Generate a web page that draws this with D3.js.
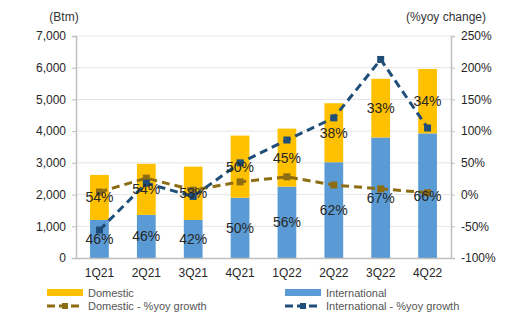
<!DOCTYPE html>
<html>
<head>
<meta charset="utf-8">
<script src="https://cdn.jsdelivr.net/npm/d3@7"></script>
<style>
  body { margin: 0; background: #fff; }
  text { font-family: Arial, "Liberation Sans", sans-serif; }
</style>
</head>
<body>
<script>
// quarters and values
const quarters = ["1Q21", "2Q21", "3Q21", "4Q21", "1Q22", "2Q22", "3Q22", "4Q22"];
const international = [1200, 1360, 1200, 1900, 2250, 3020, 3800, 3930];
const domestic = [1420, 1610, 1680, 1960, 1830, 1860, 1850, 2030];
const intlShare = ["46%", "46%", "42%", "50%", "56%", "62%", "67%", "66%"];
const domShare = ["54%", "54%", "58%", "50%", "45%", "38%", "33%", "34%"];
const domGrowth = [4, 26, 7, 20, 28, 15, 9, 3];
const intlGrowth = [-56, 18, -3, 50, 86, 121, 213, 105];
const leftTicks = [0, 1000, 2000, 3000, 4000, 5000, 6000, 7000];
const rightTicks = [-100, -50, 0, 50, 100, 150, 200, 250];

const width = 507, height = 315;
const margin = { left: 76, right: 56, top: 36, bottom: 57 };

const svg = d3.select("body").append("svg")
  .attr("width", width)
  .attr("height", height);

const x = d3.scaleBand()
  .domain(quarters)
  .range([margin.left, width - margin.right])
  .paddingInner(0.6)
  .paddingOuter(0.3);

const y = d3.scaleLinear()
  .domain([0, 7000])
  .range([height - margin.bottom, margin.top]);

const y2 = d3.scaleLinear()
  .domain([-100, 250])
  .range([height - margin.bottom, margin.top]);

// gridlines
svg.append("g")
  .selectAll("line")
  .data(leftTicks.slice(1))
  .enter()
  .append("line")
  .attr("x1", margin.left)
  .attr("x2", width - margin.right)
  .attr("y1", d => y(d))
  .attr("y2", d => y(d))
  .attr("stroke", "#e6e6e6")
  .attr("stroke-width", 1);

// stacked bars
const rows = quarters.map((q, i) => ({ q: q, intl: international[i], dom: domestic[i], i: i }));

svg.append("g").selectAll("rect")
  .data(rows)
  .enter()
  .append("rect")
  .attr("x", d => x(d.q))
  .attr("width", x.bandwidth())
  .attr("y", d => y(d.intl))
  .attr("height", d => y(0) - y(d.intl))
  .attr("fill", "#5B9BD5");

svg.append("g").selectAll("rect")
  .data(rows)
  .enter()
  .append("rect")
  .attr("x", d => x(d.q))
  .attr("width", x.bandwidth())
  .attr("y", d => y(d.intl + d.dom))
  .attr("height", d => y(d.intl) - y(d.intl + d.dom))
  .attr("fill", "#FFC000");

// axes
const axisColor = "#bfbfbf";
const leftAxis = svg.append("g")
  .attr("transform", "translate(" + margin.left + ",0)")
  .call(d3.axisLeft(y).tickValues(leftTicks).tickSize(4).tickPadding(6)
    .tickFormat(d3.format(",")));

const rightAxis = svg.append("g")
  .attr("transform", "translate(" + (width - margin.right) + ",0)")
  .call(d3.axisRight(y2).tickValues(rightTicks).tickSize(4).tickPadding(6)
    .tickFormat(d => d + "%"));

const bottomAxis = svg.append("g")
  .attr("transform", "translate(0," + y(0) + ")")
  .call(d3.axisBottom(x).tickSize(0).tickPadding(10));

[leftAxis, rightAxis, bottomAxis].forEach(g => {
  g.select(".domain").attr("stroke", axisColor).attr("stroke-width", 1.5);
  g.selectAll(".tick line").attr("stroke", axisColor);
  g.selectAll(".tick text").attr("fill", "#262626").style("font-size", "12px");
});

// growth lines
const line = (vals) => d3.line()
  .x((d, i) => x(quarters[i]) + x.bandwidth() / 2)
  .y(d => y2(d))(vals);

const series = [
  { vals: domGrowth, color: "#8C6D13" },
  { vals: intlGrowth, color: "#1F4E79" }
];

series.forEach(s => {
  svg.append("path")
    .attr("d", line(s.vals))
    .attr("fill", "none")
    .attr("stroke", s.color)
    .attr("stroke-width", 3)
    .attr("stroke-dasharray", "8,5");
  svg.append("g").selectAll("rect")
    .data(s.vals)
    .enter()
    .append("rect")
    .attr("x", (d, i) => x(quarters[i]) + x.bandwidth() / 2 - 3.5)
    .attr("y", d => y2(d) - 3.5)
    .attr("width", 7)
    .attr("height", 7)
    .attr("fill", s.color);
});

// share labels
const labelStyle = sel => sel
  .attr("dy", "0.35em")
  .attr("text-anchor", "middle")
  .style("font-size", "14px")
  .attr("fill", "#262626");

svg.append("g").selectAll("text")
  .data(rows)
  .enter()
  .append("text")
  .attr("x", d => x(d.q) + x.bandwidth() / 2)
  .attr("y", d => (y(0) + y(d.intl)) / 2)
  .call(labelStyle)
  .text(d => intlShare[d.i]);

svg.append("g").selectAll("text")
  .data(rows)
  .enter()
  .append("text")
  .attr("x", d => x(d.q) + x.bandwidth() / 2)
  .attr("y", d => (y(d.intl) + y(d.intl + d.dom)) / 2)
  .call(labelStyle)
  .text(d => domShare[d.i]);

// axis titles
svg.append("text")
  .attr("x", 64).attr("y", 21)
  .attr("text-anchor", "middle")
  .style("font-size", "12px").attr("fill", "#333")
  .text("(Btm)");

svg.append("text")
  .attr("x", 446).attr("y", 21)
  .attr("text-anchor", "middle")
  .style("font-size", "12px").attr("fill", "#333")
  .text("(%yoy change)");

// legend
const legend = svg.append("g");
const items = [
  { label: "Domestic", type: "bar", color: "#FFC000", x: 47, y: 293 },
  { label: "International", type: "bar", color: "#5B9BD5", x: 285, y: 293 },
  { label: "Domestic - %yoy growth", type: "line", color: "#8C6D13", x: 47, y: 306 },
  { label: "International - %yoy growth", type: "line", color: "#1F4E79", x: 285, y: 306 }
];
items.forEach(it => {
  if (it.type === "bar") {
    legend.append("rect")
      .attr("x", it.x).attr("y", it.y - 4)
      .attr("width", 36).attr("height", 7)
      .attr("fill", it.color);
  } else {
    legend.append("line")
      .attr("x1", it.x).attr("x2", it.x + 36)
      .attr("y1", it.y).attr("y2", it.y)
      .attr("stroke", it.color).attr("stroke-width", 3)
      .attr("stroke-dasharray", "8,4");
    legend.append("rect")
      .attr("x", it.x + 15).attr("y", it.y - 3)
      .attr("width", 6).attr("height", 6)
      .attr("fill", it.color);
  }
  legend.append("text")
    .attr("x", it.x + 41).attr("y", it.y)
    .attr("dy", "0.35em")
    .style("font-size", "11px").attr("fill", "#555")
    .text(it.label);
});
</script>
</body>
</html>
